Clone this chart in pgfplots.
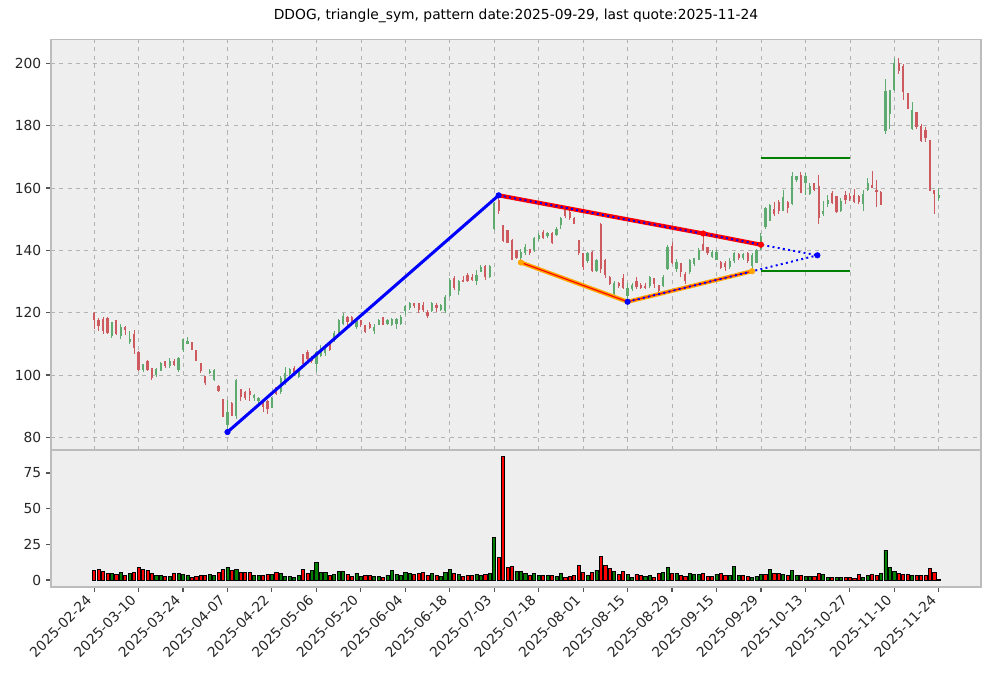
\documentclass[border=0pt]{standalone}
\usepackage{fontspec}
\setmainfont{DejaVu Sans}
\usepackage{pgfplots}
\usepackage{pgfplotstable}
\pgfplotsset{compat=1.18}

\definecolor{bgc}{HTML}{EEEEEE}
\definecolor{edgec}{HTML}{BCBCBC}
\definecolor{gridc}{HTML}{B2B2B2}
\definecolor{tickc}{HTML}{555555}
\definecolor{cg}{RGB}{95,170,110}
\definecolor{cr}{RGB}{205,90,95}
\definecolor{volg}{HTML}{008000}
\definecolor{volr}{HTML}{FF0000}
\definecolor{orangec}{HTML}{FFA500}
\definecolor{lineg}{HTML}{008000}

% up candles: close >= open
\pgfplotstableread{
i o h l c
4 112.5 117 112 117
6 112.5 116.5 111.5 115.5
8 110.5 114 110 111.5
11 101.5 103.6 100.9 103.5
14 100 102.2 99.5 102
15 101.4 104.1 101.2 104
17 103 105.5 102.3 104.5
19 101.5 105.8 100.9 105.5
20 108 111.6 107.3 111.5
21 110 112.3 110 111
26 100.5 101.8 100.3 101.3
27 98.5 101.9 98.2 101.7
30 84 92 81.7 88
32 87 98.7 86 98.5
36 92.5 93.8 91.5 93.5
37 91.5 93 91 92.5
40 89.5 93 89.3 92.5
42 94.5 99.8 94 99
43 97 102.5 96.8 100.5
44 100.3 102.2 99 102
46 99.5 102.2 99 101.5
50 103.5 107.8 100.9 107.5
51 106 109.5 105.7 108.5
52 107 109.2 106 109
54 111 114 110.6 113.5
55 113.5 118 113.2 117.5
56 116.5 119.8 116 119
59 115.5 117.7 114.9 117.2
63 114 116.5 113.3 115.5
64 116 118.1 115.9 117.5
66 116.5 118.1 116.1 117.5
67 116 118.4 115.6 118
68 116.5 118.3 114.9 118
69 116.3 119.2 116 118.5
70 120.5 122.4 119.2 122
71 121.5 123.5 121 123
76 120.5 123.5 120.2 123
78 121 122.7 120.5 122.5
79 120.5 125.6 119.8 125
80 125.5 131 125 130.5
82 127 130.5 125.7 130
86 130 133.6 129 132
87 133 135.2 133 134.5
89 131.5 135.4 131 135
90 147 155.5 146.5 155.3
96 137.5 140.5 136.1 139.5
97 139.2 142 138.6 141
99 140 144.2 139.5 144
100 143.5 145.5 143 145
102 144.5 145.9 144 145.5
104 145 147.5 144.5 147
105 148 150.8 146.9 150.5
111 136.5 139.5 136 139
113 133.5 137.3 133 137
117 126.1 130 125.8 129.4
120 125.5 129.4 123.5 128
121 127.5 129.5 127 129
125 128.5 131.8 128 131.5
128 128.5 132 128.2 131.3
129 134 141.6 133.7 141
131 134 137.3 133 136.2
134 133 137.3 132.5 137
135 135.5 137.6 135 137.5
136 137 140.8 136.8 140
139 138 140 137.5 139.5
140 137 140.2 136.8 139.5
143 134.5 137.5 134 136.5
144 136.5 139.6 136 139
146 137.5 139.2 137 138.7
148 135 139.2 133.3 138.5
149 136 140.4 135.8 140
150 140.5 145.5 140 144.5
151 147.5 154 147 153.5
152 149.5 155 149.4 154.5
155 152.7 159.5 152.7 157
157 155 165 154.6 164
158 162.5 164 162 163.8
160 161.5 164.9 157.8 164
161 158 161.6 157.8 160.5
164 151.8 155.7 151 152.5
165 155 157.8 154 156
168 152.5 156.8 152.2 155.8
173 155 159.5 152.7 158
174 159.5 163.3 159.1 161.5
178 178.4 194.9 177.3 191.1
179 183.8 191.4 178.9 191.4
180 191.4 201.6 191 200
184 179 187.6 178.7 185
190 156.8 160 155.7 157.8
}\uptable

% down candles: close < open
\pgfplotstableread{
i o h l c
0 120 120.2 114.8 117.5
1 117.5 118.2 114 115.6
2 118 118.5 113 114
3 118.2 118.5 113.3 113.5
5 117.5 117.7 112.7 113
7 115.5 115.8 112.7 114.5
9 113 114.5 106.8 108.5
10 107.5 107.7 101.4 101.5
12 104.5 104.8 101.3 101.6
13 102.2 102.3 98.4 99
16 104.5 104.6 102.4 102.9
18 104.4 105 103 103.2
22 110.5 110.7 107.9 108
23 107.9 107.9 104.5 104.5
24 103.8 104 100.8 101.2
25 99.8 99.8 96.9 97.5
28 96.6 96.8 94.5 94.8
29 92.2 92.2 86.4 86.5
31 91 91.2 86.9 87
33 95.5 95.5 91.7 93
34 94.5 95 92 92.5
35 95 95.8 91.7 93.5
38 91.2 92 88 89.8
39 91.5 92 87.6 89
41 96 96.2 93.5 94
45 102.2 103 100 100.5
47 106.7 106.8 103 103.5
48 107.5 107.9 104.6 105
49 106 106.2 104 104.5
53 110.5 110.6 107.7 108
57 118.5 119 116 117
58 118.5 119 117 117.2
60 117.5 117.8 115.3 116
61 116 116.2 113.5 113.7
62 116.5 117 114.8 115
65 118.5 118.6 116 116.2
72 123 123.2 121.5 122
73 123 123.1 120 121
74 122.5 123.5 120.3 121
75 120.2 120.7 118.4 119
77 122.5 123 120.3 121.5
81 131 131.7 127.2 128
83 130.5 131.7 129.9 130
84 132 132.8 129.9 130
85 131.5 132.5 130 130.5
88 135 135.4 130.4 131.5
91 156 157.65 151.7 152.5
92 148 148.2 142.7 143
93 146.4 146.6 142.3 142.5
94 143.3 143.5 136.8 137
95 140 140.2 137.3 137.5
98 140.3 140.5 138.5 139.2
101 146 146.4 143.7 144
103 145.5 145.9 141.9 142.3
106 153 153.3 150.4 151
107 152.4 152.8 149.8 150.5
108 150.5 150.6 148.3 148.5
109 143.4 143.4 138.4 139
110 139.2 139.2 133.8 134.5
112 139.6 139.7 133 133.3
114 148.5 148.7 132.6 134
115 137 137.2 131 132
116 131.5 131.8 128.8 129.2
118 129.5 129.8 128 128.5
119 131 132.5 127.5 128
122 130 131.4 127.6 128.3
123 128.8 129.5 127.5 127.8
124 128.5 129.4 127.5 127.8
126 131 131 128 129.2
127 128.8 129 126.6 127
130 141.5 142.7 135.7 136
132 135.8 136 131.5 133
133 132.5 133 129.3 130
137 142 145.4 139.8 140
138 141 141.2 138.5 139
141 136.3 136.6 134 134.2
142 136 136.6 133.5 134.5
145 138.8 139.2 136.8 137.5
147 139 139.5 136 136.5
153 153.4 155.5 151 151.5
154 155.5 156 151.7 152.5
156 155.5 155.7 151.9 153.5
159 164.3 165.2 158.3 158.5
162 161.6 161.6 159 159.5
163 160.5 164.3 148.6 150.5
166 158.5 158.9 155 155.2
167 157.3 157.3 152 152.2
169 157.8 158.9 155 156
170 157.5 158.4 155.7 156.5
171 157.8 159.8 155.3 155.5
172 157.3 157.8 155 155.5
175 161 165.4 159.9 160
176 159.5 162.7 154 158.8
177 158.7 159 154.4 154.5
181 200 201.6 196.6 197.6
182 199.1 199.7 188.1 190.8
183 190.5 190.5 185.4 185.5
185 184.3 184.5 178.9 179.5
186 180 180.5 174.6 175
187 178.5 179.5 174.6 176
188 175.4 175.5 158.9 159
189 159.4 159.5 151.6 158
}\downtable

\pgfplotsset{
  panel/.style={
    scale only axis, width=236.22mm,
    xmin=-9.7, xmax=199.5,
    axis background/.style={fill=bgc},
    axis line style={draw=edgec, line width=0.8pt},
    tick pos=left, tick align=outside, major tick length=3.5pt,
    tick style={color=tickc, line width=0.8pt},
    ticklabel style={font=\normalsize, text=black!85},
    /pgf/number format/assume math mode=true,
    xtick={0,10,...,190},
  },
  wick/.style={only marks, mark=*, mark size=0pt,
    mark options={draw opacity=0, fill opacity=0}, forget plot,
    error bars/.cd, y dir=both, y explicit, error mark=none,
    error bar style={line width=0.7pt, color=#1}},
  body/.style={only marks, mark=*, mark size=0pt,
    mark options={draw opacity=0, fill opacity=0}, forget plot,
    error bars/.cd, y dir=both, y explicit, error mark=none,
    error bar style={line width=1.6pt, color=#1}},
}

\begin{document}
\begin{tikzpicture}
\path[use as bounding box] (0,0) rectangle (254.254mm,-172.212mm);

\begin{axis}[panel,
  anchor=north west, at={(12.954mm,-10.03mm)}, height=104.27mm,
  ymin=75.93, ymax=207.65, ytick={80,100,...,200},
  xticklabels={},
  grid=major, grid style={dashed, color=gridc, line width=0.5pt},
  title={DDOG, triangle\_sym, pattern date:2025-09-29, last quote:2025-11-24},
  title style={font=\normalsize, inner sep=0pt, yshift=6pt},
]
% wicks
\addplot[wick=cg] table[x=i, y expr={(\thisrow{h}+\thisrow{l})/2}, y error expr={(\thisrow{h}-\thisrow{l})/2}] \uptable;
\addplot[wick=cr] table[x=i, y expr={(\thisrow{h}+\thisrow{l})/2}, y error expr={(\thisrow{h}-\thisrow{l})/2}] \downtable;
% bodies
\addplot[body=cg] table[x=i, y expr={(\thisrow{o}+\thisrow{c})/2}, y error expr={abs(\thisrow{c}-\thisrow{o})/2}] \uptable;
\addplot[body=cr] table[x=i, y expr={(\thisrow{o}+\thisrow{c})/2}, y error expr={abs(\thisrow{c}-\thisrow{o})/2}] \downtable;

% pattern lines
\addplot[blue, line width=2.2pt, mark=none] coordinates {(30,81.7) (91,157.65)};
\addplot[red, line width=3pt, mark=none] coordinates {(91,157.65) (137,145.4) (150,141.8)};
\addplot[orangec, line width=3pt, mark=none] coordinates {(96,136.1) (120,123.5) (148,133.3)};
\addplot[red, line width=0.8pt, mark=none] coordinates {(96,136.1) (120,123.5) (148,133.3)};
\addplot[blue, line width=1.4pt, dash pattern=on 1.4pt off 2.4pt, mark=none] coordinates {(91,157.65) (162.7,138.4)};
\addplot[blue, line width=1.4pt, dash pattern=on 1.4pt off 2.4pt, mark=none] coordinates {(120,123.5) (162.7,138.4)};
\addplot[lineg, line width=1.5pt, mark=none] coordinates {(150,169.5) (170,169.5)};
\addplot[lineg, line width=1.5pt, mark=none] coordinates {(150,133.3) (170,133.3)};
% pivot markers
\addplot[only marks, mark=*, mark size=2pt, color=red] coordinates {(137,145.4) (150,141.8)};
\addplot[only marks, mark=*, mark size=2pt, color=orangec] coordinates {(96,136.1) (148,133.3)};
\addplot[only marks, mark=*, mark size=2pt, color=blue] coordinates {(30,81.7) (91,157.65) (120,123.5) (162.7,138.4)};
\end{axis}

\begin{axis}[panel,
  anchor=north west, at={(12.954mm,-114.3mm)}, height=34.8mm,
  ymin=-4.9, ymax=91.1, ytick={0,25,50,75},
  xticklabels={2025-02-24,2025-03-10,2025-03-24,2025-04-07,2025-04-22,2025-05-06,2025-05-20,2025-06-04,2025-06-18,2025-07-03,2025-07-18,2025-08-01,2025-08-15,2025-08-29,2025-09-15,2025-09-29,2025-10-13,2025-10-27,2025-11-10,2025-11-24},
  xticklabel style={xshift=-6.5pt, rotate=45, anchor=north east, inner sep=1pt},
]
\addplot[ybar, bar width=0.7, bar shift=0pt, fill=volg, draw=black, line width=0.5pt] coordinates {
(4,4.9)(6,5.6)(8,4.9)(14,3.5)(15,3.5)(17,2.8)(19,4.9)(20,4.2)(21,3.5)(26,4.2)(27,3.5)(30,9.1)(32,7.7)(36,3.5)(37,3.5)(40,4.2)(42,4.9)(43,2.8)(44,2.8)(45,2.1)(46,3.5)(49,7.0)(50,12.6)(51,5.6)(52,5.6)(54,4.2)(55,6.3)(56,6.3)(59,4.9)(60,2.8)(63,2.8)(64,2.8)(66,3.5)(67,7.0)(68,4.2)(69,3.5)(70,5.6)(71,4.9)(76,4.9)(78,2.8)(79,5.6)(80,7.7)(82,4.2)(86,4.2)(87,3.5)(89,4.9)(90,30.1)(95,6.3)(96,6.3)(97,4.9)(99,4.9)(100,3.5)(102,3.5)(104,2.8)(105,4.9)(111,3.5)(113,7.0)(117,6.3)(120,4.2)(121,2.1)(124,2.8)(125,3.5)(128,5.6)(129,9.1)(131,4.9)(134,4.9)(135,4.2)(136,4.2)(140,4.2)(143,3.5)(144,9.8)(145,3.5)(148,2.1)(149,2.8)(150,4.2)(152,7.7)(155,4.2)(157,7.0)(158,3.5)(160,2.8)(161,2.8)(164,4.2)(165,2.1)(167,2.1)(168,2.1)(173,2.1)(174,3.5)(177,4.9)(178,21.0)(179,9.1)(180,6.3)(184,3.5)
};
\addplot[ybar, bar width=0.7, bar shift=0pt, fill=volr, draw=black, line width=0.5pt] coordinates {
(0,7.0)(1,7.7)(2,6.3)(3,4.9)(5,4.2)(7,3.5)(9,5.6)(10,9.1)(11,7.7)(12,7.0)(13,4.9)(16,2.8)(18,4.9)(22,2.1)(23,2.8)(24,3.5)(25,3.5)(28,5.6)(29,7.7)(31,7.0)(33,5.6)(34,5.6)(35,5.6)(38,3.5)(39,4.2)(41,5.6)(47,7.7)(48,4.9)(53,3.5)(57,4.2)(58,2.8)(61,3.5)(62,3.5)(65,2.1)(72,4.2)(73,4.9)(74,5.6)(75,3.5)(77,3.5)(81,4.9)(83,2.8)(84,3.5)(85,3.5)(88,4.2)(91,16.1)(92,86.9)(93,9.1)(94,9.8)(98,3.5)(101,3.5)(103,3.5)(106,2.1)(107,2.8)(108,3.5)(109,10.5)(110,5.6)(112,5.6)(114,16.8)(115,10.5)(116,8.4)(118,4.2)(119,6.3)(122,4.2)(123,3.5)(126,2.1)(127,4.9)(130,4.9)(132,3.5)(133,2.8)(137,4.9)(138,2.8)(139,2.8)(141,4.9)(142,3.5)(146,3.5)(147,2.8)(151,4.2)(153,4.9)(154,4.9)(156,3.5)(159,3.5)(162,2.8)(163,4.9)(166,2.1)(169,2.1)(170,2.1)(171,1.4)(172,4.2)(175,4.2)(176,3.5)(181,4.9)(182,4.2)(183,4.2)(185,3.5)(186,3.5)(187,3.5)(188,8.4)(189,5.6)(190,0.3)
};
\end{axis}
\end{tikzpicture}
\end{document}
